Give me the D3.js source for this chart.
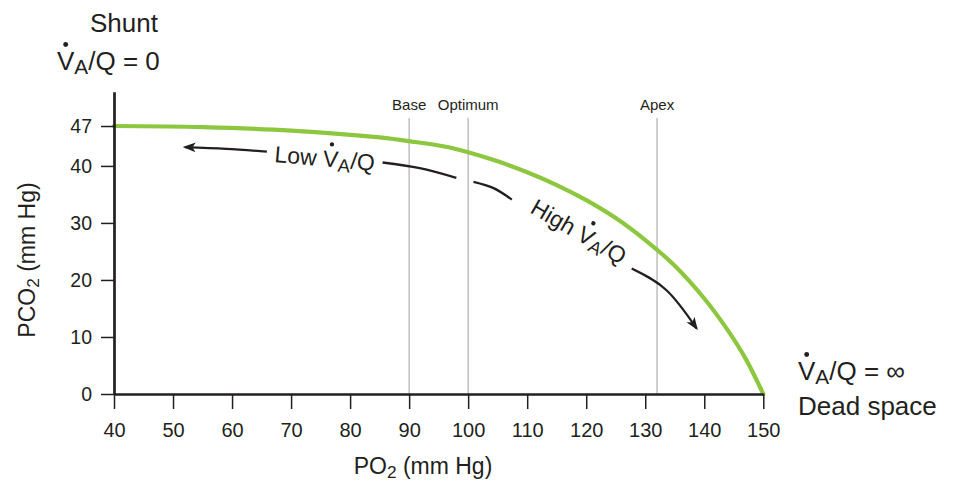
<!DOCTYPE html>
<html><head><meta charset="utf-8">
<script src="https://cdn.jsdelivr.net/npm/d3@7"></script>
<style>body{margin:0;background:#fff} svg{display:block}</style>
</head><body><svg id="chart" width="954" height="485"></svg>
<script>
// ---- data ----
const po2  = [40, 55, 70, 85, 91, 96, 100, 105, 110, 115, 120, 125, 130, 135, 140, 144, 147, 150];
const pco2 = [47, 46.8, 46.2, 45.0, 44.2, 43.4, 42.4, 40.8, 38.9, 36.65, 34.0, 30.85, 27.0, 22.5, 16.75, 11.15, 6.2, 0];
const xTicks = [40, 50, 60, 70, 80, 90, 100, 110, 120, 130, 140, 150];
const yTicks = [0, 10, 20, 30, 40, 47];
const refNames = ["Base", "Optimum", "Apex"];
const refPO2 = [90, 100, 132];
const lowArrow  = [[65.9, 42.5], [59, 43.0], [52, 43.3]];
const midDash1  = [[85.5, 40.6], [91.8, 39.6], [98.0, 37.9]];
const midDash2  = [[100.9, 37.2], [104.3, 36.1], [107.4, 34.1]];
const highArrow = [[127.7, 22.0], [133.6, 18.2], [138.7, 11.5]];
const lowLabelAt = [67.1, 40.7];
const highLabelAt = [110.3, 31.9];

// ---- setup ----
const ink = "#231f20", green = "#8dc63f", grey = "#b5b5b5";
const font = "'Liberation Sans', Arial, Helvetica, sans-serif";
const svg = d3.select("#chart");
const x = d3.scaleLinear().domain([40, 150]).range([114, 763.3]);
const y = d3.scaleLinear().domain([0, 53]).range([394, 91.8]);

svg.append("defs").append("marker")
  .attr("id", "ah").attr("viewBox", "0 -5 12 10")
  .attr("refX", 10).attr("refY", 0)
  .attr("markerUnits", "userSpaceOnUse")
  .attr("markerWidth", 13).attr("markerHeight", 11)
  .attr("orient", "auto")
  .append("path").attr("d", "M0,-4.5L12,0L0,4.5L3,0Z").attr("fill", ink);

// reference lines
const refG = svg.append("g");
refPO2.forEach((v, i) => {
  refG.append("line").attr("x1", x(v)).attr("x2", x(v))
    .attr("y1", 118).attr("y2", y(0))
    .attr("stroke", grey).attr("stroke-width", 1.3);
  refG.append("text").attr("x", x(v)).attr("y", 110)
    .attr("text-anchor", "middle").attr("font-family", font)
    .attr("font-size", 15).attr("fill", ink).text(refNames[i]);
});

// curve
const pts = po2.map((p, i) => [p, pco2[i]]);
svg.append("path").datum(pts)
  .attr("d", d3.line().x(d => x(d[0])).y(d => y(d[1])).curve(d3.curveCatmullRom.alpha(0.5)))
  .attr("fill", "none").attr("stroke", green).attr("stroke-width", 4.2)
  .attr("stroke-linecap", "round");

// annotation paths
const aLine = d3.line().x(d => x(d[0])).y(d => y(d[1])).curve(d3.curveNatural);
[[lowArrow, true], [midDash1, false], [midDash2, false], [highArrow, true]].forEach(([d, arrow]) => {
  const p = svg.append("path").attr("d", aLine(d)).attr("fill", "none")
    .attr("stroke", ink).attr("stroke-width", 2.3);
  if (arrow) p.attr("marker-end", "url(#ah)");
});

// axes
const xAxis = svg.append("g").attr("transform", `translate(0,${y(0)})`)
  .call(d3.axisBottom(x).tickValues(xTicks).tickSize(15).tickPadding(14).tickSizeOuter(0));
const yAxis = svg.append("g").attr("transform", `translate(${x(40)},0)`)
  .call(d3.axisLeft(y).tickValues(yTicks).tickSize(13).tickPadding(9).tickSizeOuter(0));
[xAxis, yAxis].forEach(g => {
  g.select(".domain").attr("stroke", ink).attr("stroke-width", 2.7);
  g.selectAll(".tick line").attr("stroke", ink).attr("stroke-width", 1.5);
  g.selectAll(".tick text").attr("fill", ink).attr("font-family", font);
});
xAxis.selectAll(".tick text").attr("font-size", 20);
yAxis.selectAll(".tick text").attr("font-size", 19.5);

// axis titles
function subTitle(g, main, sub, rest, fs) {
  const t = g.append("text").attr("font-family", font).attr("font-size", fs).attr("fill", ink)
    .attr("text-anchor", "middle");
  t.append("tspan").text(main);
  t.append("tspan").attr("font-size", fs * 0.75).attr("dy", fs * 0.18).text(sub);
  t.append("tspan").attr("dy", -fs * 0.18).text(rest);
  return t;
}
subTitle(svg.append("g").attr("transform", "translate(423,474)"), "PO", "2", " (mm Hg)", 23);
subTitle(svg.append("g").attr("transform", "translate(35,260) rotate(-90)"), "PCO", "2", " (mm Hg)", 23);

// V-dot-A / Q labels
function vaq(px, py, fs, prefix, suffix, rot) {
  const g = svg.append("g").attr("transform", `translate(${px},${py}) rotate(${rot || 0})`);
  const t = g.append("text").attr("font-family", font).attr("font-size", fs).attr("fill", ink)
    .style("white-space", "pre");
  if (prefix) t.append("tspan").text(prefix);
  const v = t.append("tspan").text("V");
  t.append("tspan").attr("font-size", fs * 0.8).attr("dy", fs * 0.17).text("A");
  t.append("tspan").attr("dy", -fs * 0.17).text(suffix);
  const s = v.node().getStartPositionOfChar(0);
  const w = v.node().getSubStringLength(0, 1);
  g.append("circle").attr("cx", s.x + w / 2).attr("cy", s.y - fs * 0.98)
    .attr("r", fs * 0.095).attr("fill", ink);
  return g;
}

// top-left
svg.append("text").attr("x", 124).attr("y", 32).attr("text-anchor", "middle")
  .attr("font-family", font).attr("font-size", 26).attr("fill", ink).text("Shunt");
vaq(57, 70, 26, "", "/Q = 0", 0);
// bottom-right
vaq(798, 380, 26, "", "/Q = \u221E", 0);
svg.append("text").attr("x", 798).attr("y", 415)
  .attr("font-family", font).attr("font-size", 26).attr("fill", ink).text("Dead space");
// curve annotations
vaq(x(lowLabelAt[0]), y(lowLabelAt[1]), 23, "Low ", "/Q", 5);
vaq(x(highLabelAt[0]), y(highLabelAt[1]), 23, "High ", "/Q", 30);
</script></body></html>
